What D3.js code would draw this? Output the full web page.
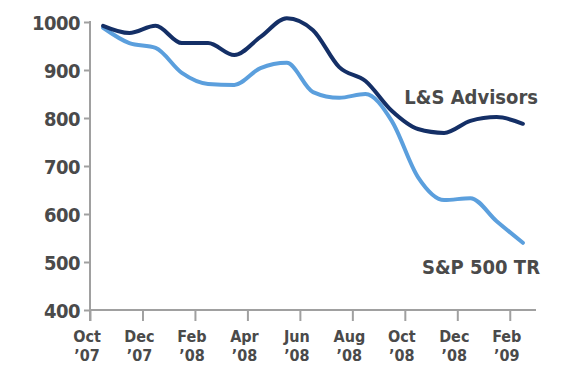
<!DOCTYPE html>
<html>
<head>
<meta charset="utf-8">
<script src="https://cdn.jsdelivr.net/npm/d3@7/dist/d3.min.js"></script>
<style>
  html, body { margin: 0; padding: 0; background: #fff; }
  svg { display: block; }
  text { font-family: "Liberation Sans Narrow", "DejaVu Sans Condensed", "Arial Narrow", sans-serif; font-weight: bold; fill: #4a4a4a; }
</style>
</head>
<body>
<svg id="chart" width="567" height="366"></svg>
<script>
// ---- data ----
const months = ["Oct 07","Nov 07","Dec 07","Jan 08","Feb 08","Mar 08","Apr 08","May 08","Jun 08",
                "Jul 08","Aug 08","Sep 08","Oct 08","Nov 08","Dec 08","Jan 09","Feb 09"];
const lsAdvisors = [992, 977, 992, 956, 956, 931, 969, 1008, 983, 906, 877, 815, 777, 769, 794, 802, 788];
const sp500TR    = [988, 956, 946, 894, 871, 869, 904, 915, 854, 842, 850, 794, 677, 629, 633, 585, 540];
const yTicks = [400, 500, 600, 700, 800, 900, 1000];
const xTickMonths = ["Oct","Dec","Feb","Apr","Jun","Aug","Oct","Dec","Feb"];
const xTickYears  = ["\u201907","\u201907","\u201908","\u201908","\u201908","\u201908","\u201908","\u201908","\u201909"];
const seriesNames = ["L&S Advisors", "S&P 500 TR"];

// ---- scales ----
const svg = d3.select("#chart");
const x = d3.scaleLinear().domain([0, 17]).range([90, 536]);
const y = d3.scaleLinear().domain([400, 1000]).range([310, 22]);
const axisColor = "#a0a0a0";

// x axis baseline + ticks
const xTickPos = xTickMonths.map((m, i) => i * 2);
const xAxis = d3.axisBottom(x).tickValues(xTickPos).tickSize(11).tickFormat("");
const gx = svg.append("g").attr("transform", `translate(0,${y(400)})`).call(xAxis);
gx.select(".domain").attr("d", `M${x(0)},0H${x(17)}`).attr("stroke", axisColor).attr("stroke-width", 2);
gx.selectAll(".tick line").attr("stroke", axisColor).attr("stroke-width", 2);

// x labels (two lines, separate text elements)
const xl = svg.append("g");
xl.selectAll("text.m").data(xTickPos).join("text").attr("class", "m")
  .attr("x", d => x(d) - 3).attr("y", 342)
  .attr("text-anchor", "middle").attr("font-size", 16)
  .text((d, i) => xTickMonths[i]);
xl.selectAll("text.yr").data(xTickPos).join("text").attr("class", "yr")
  .attr("x", d => x(d) - 3).attr("y", 361)
  .attr("text-anchor", "middle").attr("font-size", 16)
  .text((d, i) => xTickYears[i]);

// y axis
const yAxis = d3.axisLeft(y).tickValues(yTicks).tickSize(6).tickPadding(4).tickFormat(d3.format("d"));
const gy = svg.append("g").attr("transform", `translate(${x(0)},0)`).call(yAxis);
gy.select(".domain").attr("d", `M0,${y(1000) - 1}V${y(400) + 11}`).attr("stroke", axisColor).attr("stroke-width", 2);
gy.selectAll(".tick line").attr("stroke", axisColor).attr("stroke-width", 2);
gy.selectAll(".tick text").attr("font-size", 20).attr("font-family", null).attr("fill", null)
  .attr("dy", "0.36em").style("letter-spacing", "-0.5px");

// lines
const line = d3.line()
  .x((d, i) => x(i + 0.5))
  .y(d => y(d))
  .curve(d3.curveMonotoneX);

svg.append("path").datum(sp500TR)
  .attr("fill", "none").attr("stroke", "#5b9fdd").attr("stroke-width", 4)
  .attr("stroke-linejoin", "round").attr("stroke-linecap", "round")
  .attr("d", line);
svg.append("path").datum(lsAdvisors)
  .attr("fill", "none").attr("stroke", "#142f66").attr("stroke-width", 4)
  .attr("stroke-linejoin", "round").attr("stroke-linecap", "round")
  .attr("d", line);

// series labels
svg.append("text").attr("x", 538).attr("y", 104).attr("text-anchor", "end")
  .attr("font-size", 20).text(seriesNames[0]);
svg.append("text").attr("x", 540).attr("y", 274).attr("text-anchor", "end")
  .attr("font-size", 20).text(seriesNames[1]);
</script>
</body>
</html>
